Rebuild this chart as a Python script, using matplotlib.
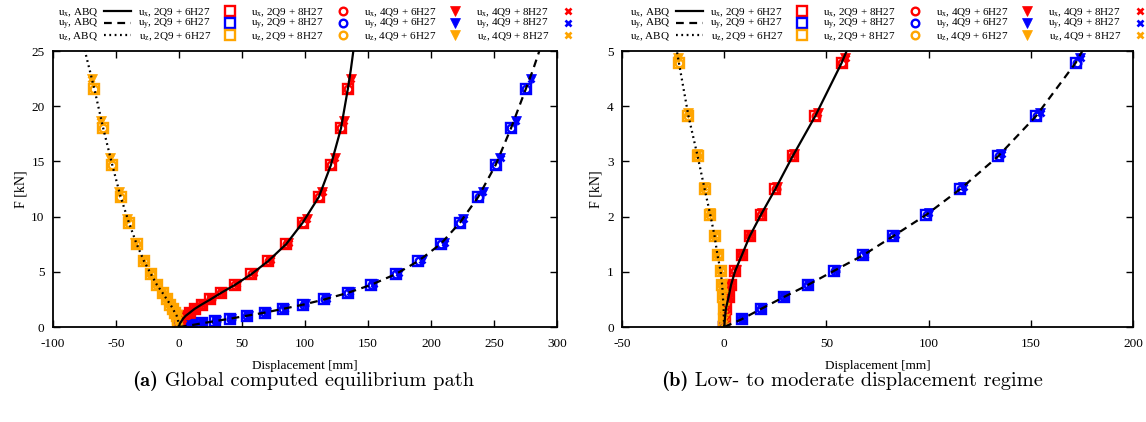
import matplotlib
matplotlib.use("Agg")
import matplotlib.pyplot as plt
import numpy as np

plt.rcParams['font.family'] = ['Liberation Serif', 'DejaVu Serif']
plt.rcParams['mathtext.fontset'] = 'custom'
plt.rcParams['mathtext.rm'] = 'Liberation Serif'
plt.rcParams['mathtext.it'] = 'Liberation Serif:italic'
plt.rcParams['mathtext.bf'] = 'Liberation Serif:bold'
plt.rcParams['axes.unicode_minus'] = False

# load levels [kN]
F_2Q9 = [0, 0.14, 0.33, 0.54, 0.76, 1.02, 1.30, 1.64, 2.03, 2.50, 3.09, 3.82, 4.79,
         5.98, 7.52, 9.45, 11.8, 14.67, 18.0, 21.6]
F_4Q9 = [0, 0.14, 0.33, 0.55, 0.77, 1.03, 1.31, 1.66, 2.06, 2.53, 3.13, 3.87, 4.87,
         6.1, 7.65, 9.75, 12.26, 15.28, 18.66, 22.5]
F_abq = [0, 0.14, 0.33, 0.54, 0.76, 1.02, 1.30, 1.64, 2.03, 2.50, 3.09, 3.82, 4.79,
         5.98, 7.52, 9.45, 11.8, 14.67, 18.0, 21.6, 23.3, 25.0]

# displacements [mm]
ux_abq = [0, 0.3, 0.8, 2.1, 3.3, 5.4, 8.6, 12.4, 17.9, 25.0, 33.4, 44.5, 57.5,
          70.9, 85.2, 98.2, 111.1, 120.6, 128.6, 134.1, 136.4, 138.4]
uy_abq = [0, 8.5, 18.1, 29.0, 40.8, 53.8, 67.9, 82.4, 98.7, 115.5, 133.9, 152.5, 172.0,
          190.0, 207.7, 223.0, 237.6, 251.3, 263.5, 275.4, 281.0, 286.0]
uz_abq = [0, -0.2, -0.3, -0.65, -1.0, -1.8, -3.3, -4.7, -6.8, -9.6, -13.0, -17.5, -22.2,
          -27.8, -33.6, -39.7, -46.3, -52.9, -60.1, -67.2, -70.9, -74.6]

ux_2Q9_6 = [0, 0.3, 0.8, 2.1, 3.3, 5.4, 8.6, 12.4, 17.9, 25.0, 33.4, 44.5, 57.5,
            70.9, 85.2, 98.2, 111.1, 120.6, 128.6, 134.1]
uy_2Q9_6 = [0, 8.5, 18.1, 29.0, 40.8, 53.8, 67.9, 82.4, 98.7, 115.5, 133.9, 152.5, 172.0,
            190.0, 207.7, 223.0, 237.6, 251.3, 263.5, 275.4]
uz_2Q9_6 = [0, -0.2, -0.3, -0.65, -1.0, -1.8, -3.3, -4.7, -6.8, -9.6, -13.0, -17.5, -22.2,
            -27.8, -33.6, -39.7, -46.3, -52.9, -60.1, -67.2]

ux_2Q9_8 = [0, 0.3, 0.8, 2.1, 3.3, 5.5, 8.7, 12.5, 18.0, 25.2, 33.6, 44.7, 57.7,
            71.1, 85.4, 98.5, 111.4, 120.9, 128.9, 134.4]
uy_2Q9_8 = [0, 8.5, 18.2, 29.1, 41.0, 54.0, 68.1, 82.7, 99.0, 115.8, 134.3, 152.9, 172.4,
            190.4, 208.1, 223.4, 238.0, 251.7, 263.9, 275.8]
uz_2Q9_8 = [0, -0.2, -0.3, -0.65, -1.0, -1.8, -3.3, -4.7, -6.8, -9.6, -13.1, -17.6, -22.3,
            -27.9, -33.7, -39.9, -46.5, -53.1, -60.3, -67.5]

ux_4Q9_6 = [0, 0.3, 0.8, 2.2, 3.4, 5.6, 8.8, 12.7, 18.3, 25.6, 34.1, 45.7, 59.2,
            72.5, 86.8, 101.3, 113.8, 123.8, 131.0, 136.2]
uy_4Q9_6 = [0, 8.6, 18.3, 29.4, 41.3, 54.5, 68.7, 83.5, 100.0, 117.0, 135.6, 154.4, 174.2,
            192.5, 210.5, 225.6, 241.0, 254.8, 267.2, 279.1]
uz_4Q9_6 = [0, -0.2, -0.3, -0.7, -1.0, -1.9, -3.4, -4.9, -7.0, -9.9, -13.4, -17.8, -22.7,
            -28.5, -34.5, -41.0, -47.6, -54.8, -62.2, -69.3]

ux_4Q9_8 = [0, 0.3, 0.8, 2.2, 3.4, 5.6, 8.9, 12.8, 18.4, 25.7, 34.3, 45.9, 59.5,
            72.8, 87.1, 101.6, 114.1, 124.1, 131.3, 136.5]
uy_4Q9_8 = [0, 8.6, 18.4, 29.5, 41.5, 54.7, 69.0, 83.8, 100.4, 117.4, 136.0, 154.9, 174.7,
            193.0, 211.0, 226.1, 241.5, 255.3, 267.7, 279.6]
uz_4Q9_8 = [0, -0.2, -0.3, -0.7, -1.0, -1.9, -3.4, -4.9, -7.1, -10.0, -13.5, -17.9, -22.9,
            -28.7, -34.7, -41.2, -47.8, -55.0, -62.4, -69.6]

comp_names = ['x', 'y', 'z']
comp_colors = ['#ff0000', '#0000ff', '#ffa500']
abq_styles = ['-', (0, (3.5, 2.5)), (0, (0.8, 1.6))]

panel_xlim = [(-100, 300), (-50, 200)]
panel_ylim = [(0, 25), (0, 5)]
panel_yticks = [np.arange(0, 26, 5), np.arange(0, 6, 1)]
captions = [('(a)', 'Global computed equilibrium path'),
            ('(b)', 'Low- to moderate displacement regime')]

abq = [ux_abq, uy_abq, uz_abq]
fem = [
    ('2Q9 + 6H27', F_2Q9, [ux_2Q9_6, uy_2Q9_6, uz_2Q9_6], dict(marker='s', mfc='none', ms=6.5, mew=1.7)),
    ('2Q9 + 8H27', F_2Q9, [ux_2Q9_8, uy_2Q9_8, uz_2Q9_8], dict(marker='o', mfc='none', ms=5.5, mew=1.7)),
    ('4Q9 + 6H27', F_4Q9, [ux_4Q9_6, uy_4Q9_6, uz_4Q9_6], dict(marker='v', ms=6.5, mew=0.5)),
    ('4Q9 + 8H27', F_4Q9, [ux_4Q9_8, uy_4Q9_8, uz_4Q9_8], dict(marker='x', ms=5, mew=1.9)),
]

fig = plt.figure(figsize=(11.46, 4.22), dpi=100)
ax_pos = [[0.0462, 0.2251, 0.4398, 0.6540], [0.5428, 0.2251, 0.4459, 0.6540]]
cap_cx = [303 / 1146, 852 / 1146]
cap_y = 1 - 381 / 422
leg_x = [58 / 1146, 630 / 1146]
leg_y = 1 - 24.5 / 422

renderer = fig.canvas.get_renderer()

for p in range(2):
    ax = fig.add_axes(ax_pos[p])
    handles = []
    for c in range(3):
        h, = ax.plot(abq[c], F_abq, color='black', lw=1.6, ls=abq_styles[c], zorder=3,
                     label='u$_\\mathrm{%s}$, ABQ' % comp_names[c])
        handles.append(h)
    for name, F, series, style in fem:
        for c in range(3):
            h, = ax.plot(series[c], F, ls='none', color=comp_colors[c], mec=comp_colors[c],
                         zorder=2, label='u$_\\mathrm{%s}$, %s' % (comp_names[c], name), **style)
            handles.append(h)
    ax.set_xlim(*panel_xlim[p])
    ax.set_ylim(*panel_ylim[p])
    ax.set_yticks(panel_yticks[p])
    ax.set_xticks(np.arange(panel_xlim[p][0], panel_xlim[p][1] + 1, 50))
    ax.tick_params(direction='in', top=True, right=True, length=5, width=1,
                   labelsize=9.5, pad=8)
    ax.tick_params(axis='y', pad=6)
    for s in ax.spines.values():
        s.set_linewidth(1.3)
    ax.set_xlabel('Displacement [mm]', fontsize=9.5, labelpad=7)
    ax.set_ylabel('F [kN]', fontsize=10, labelpad=3)

    fig.legend(handles=handles, loc='center left', bbox_to_anchor=(leg_x[p], leg_y), ncol=5,
               markerfirst=False, frameon=False, fontsize=8, handlelength=2.4,
               handletextpad=0.5, columnspacing=0.68, labelspacing=-0.15, borderpad=0,
               borderaxespad=0)

    # caption: bold "(a)" followed by regular text, centred as a whole
    t1 = fig.text(0, cap_y, captions[p][0], fontsize=14.7, family='cmb10', va='center')
    t2 = fig.text(0, cap_y, ' ' + captions[p][1], fontsize=14.7, family='cmr10', va='center')
    w1 = t1.get_window_extent(renderer).width / fig.bbox.width
    w2 = t2.get_window_extent(renderer).width / fig.bbox.width
    x0 = cap_cx[p] - (w1 + w2) / 2
    t1.set_x(x0)
    t2.set_x(x0 + w1)

fig.savefig('out.png', dpi=100)
